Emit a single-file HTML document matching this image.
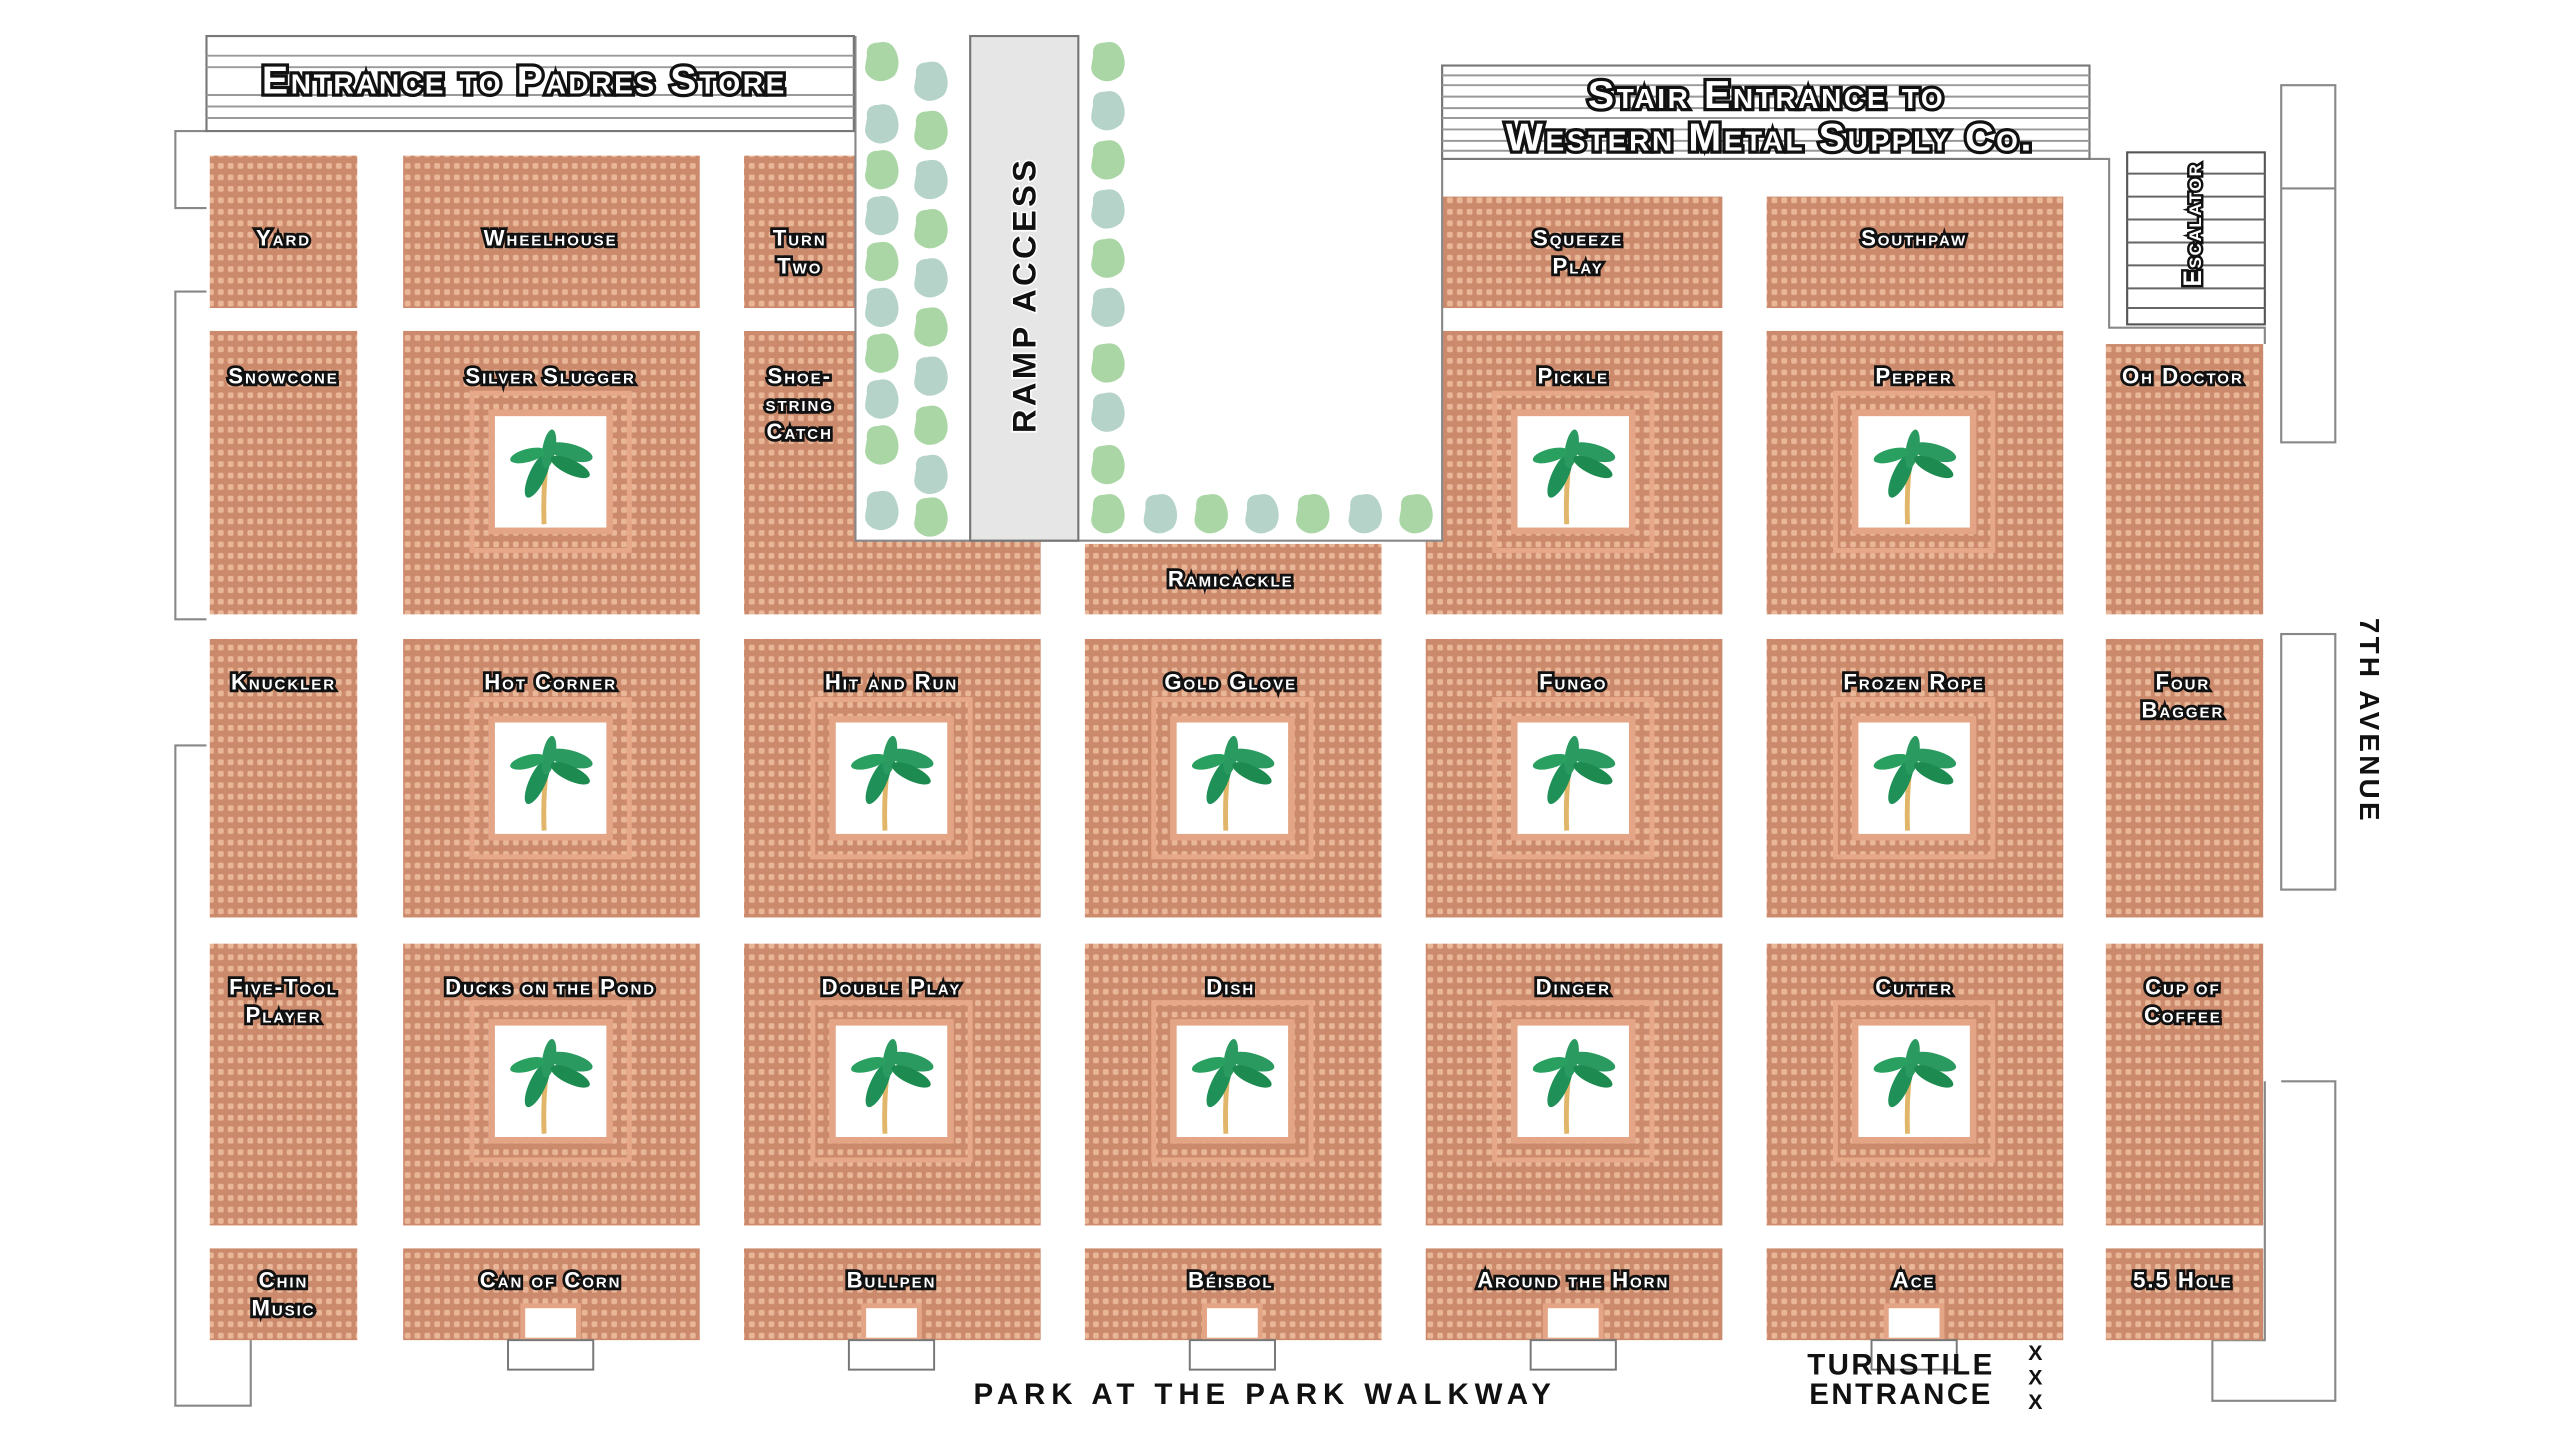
<!DOCTYPE html>
<html><head><meta charset="utf-8">
<style>
html,body{margin:0;padding:0;background:#fff;width:2568px;height:1445px;overflow:hidden}
svg{display:block}
.l{font-family:"Liberation Sans",sans-serif;font-weight:bold;font-variant:small-caps;font-size:13.5px;fill:#fff;stroke:#111;stroke-width:3.4px;paint-order:stroke;text-anchor:middle;letter-spacing:1.2px}
.h{font-family:"Liberation Sans",sans-serif;font-weight:bold;font-variant:small-caps;font-size:24px;fill:#fff;stroke:#111;stroke-width:4px;paint-order:stroke;text-anchor:middle;letter-spacing:1.6px}
.b{font-family:"Liberation Sans",sans-serif;font-weight:bold;fill:#111;text-anchor:middle;letter-spacing:2px}
</style></head><body>
<svg width="2568" height="1445" viewBox="0 0 1567 882" preserveAspectRatio="none" xmlns="http://www.w3.org/2000/svg">
<defs>
<pattern id="br" width="6" height="7" patternUnits="userSpaceOnUse">
<rect width="6" height="7" fill="#cc8a6c"/>
<rect x="1" y="1.5" width="3.5" height="3.5" rx="1" fill="#eab698"/>
</pattern>
<symbol id="palm" viewBox="0 0 68 68">
<path d="M30 66 Q29 40 33 18" stroke="#e2b66a" stroke-width="3" fill="none"/>
<ellipse cx="26" cy="36" rx="5" ry="15" fill="#1f9058" transform="rotate(25 26 36)"/>
<ellipse cx="33" cy="20" rx="4" ry="12" fill="#2a9a60" transform="rotate(10 33 20)"/>
<ellipse cx="46" cy="22" rx="14" ry="5" fill="#2a9a60" transform="rotate(15 46 22)"/>
<ellipse cx="46" cy="31" rx="13" ry="4.5" fill="#1d8a50" transform="rotate(25 46 31)"/>
<ellipse cx="20" cy="24" rx="11" ry="4" fill="#2aa060" transform="rotate(-15 20 24)"/>
</symbol>
<g id="pbox">
<rect x="-48" y="-48" width="96" height="96" fill="none" stroke="#e6a888" stroke-width="3"/>
<rect x="-38" y="-38" width="76" height="76" fill="#e3a585"/>
<rect x="-34" y="-34" width="68" height="68" fill="#fff"/>
<use href="#palm" x="-34" y="-34" width="68" height="68"/>
</g>
<g id="bg"><path d="M-9 -4 Q-10 -12 -2 -12 Q6 -14 9 -6 Q12 2 8 8 Q2 13 -4 11 Q-11 8 -10 2 Z" fill="#a9d6a4"/></g>
<g id="bb"><path d="M-9 -4 Q-10 -12 -2 -12 Q6 -14 9 -6 Q12 2 8 8 Q2 13 -4 11 Q-11 8 -10 2 Z" fill="#b5d3c8"/></g>
<g id="bx"><rect x="-17" y="-21" width="34" height="21" fill="#fff" stroke="#e3a585" stroke-width="3"/><rect x="-26" y="0" width="52" height="18" fill="#fff" stroke="#777" stroke-width="1.2"/></g>
</defs>

<g fill="none" stroke="#888" stroke-width="1.3">
<polyline points="127,80 107,80 107,127 126,127"/>
<polyline points="126,178 107,178 107,378 126,378"/>
<polyline points="126,455 107,455 107,858 153,858 153,818"/>
<rect x="1392" y="52" width="33" height="218"/>
<line x1="1392" y1="115" x2="1425" y2="115"/>
<rect x="1392" y="387" width="33" height="156"/>
<polyline points="1392,660 1425,660 1425,855 1350,855 1350,818 1382,818 1382,660"/>
<polyline points="1275,97 1287,97 1287,200 1382,200 1382,210"/>
</g>

<g fill="url(#br)">
<rect x="128" y="95" width="90" height="93"/>
<rect x="246" y="95" width="181" height="93"/>
<rect x="454" y="95" width="68" height="93"/>
<rect x="880" y="120" width="171" height="68"/>
<rect x="1078" y="120" width="181" height="68"/>
<rect x="128" y="202" width="90" height="173"/>
<rect x="246" y="202" width="181" height="173"/>
<path d="M454 202 H522 V330 H635 V375 H454 Z"/>
<rect x="662" y="332" width="181" height="43"/>
<rect x="870" y="202" width="181" height="173"/>
<rect x="1078" y="202" width="181" height="173"/>
<rect x="1285" y="210" width="96" height="165"/>
<rect x="128" y="390" width="90" height="170"/>
<rect x="246" y="390" width="181" height="170"/>
<rect x="454" y="390" width="181" height="170"/>
<rect x="662" y="390" width="181" height="170"/>
<rect x="870" y="390" width="181" height="170"/>
<rect x="1078" y="390" width="181" height="170"/>
<rect x="1285" y="390" width="96" height="170"/>
<rect x="128" y="576" width="90" height="172"/>
<rect x="246" y="576" width="181" height="172"/>
<rect x="454" y="576" width="181" height="172"/>
<rect x="662" y="576" width="181" height="172"/>
<rect x="870" y="576" width="181" height="172"/>
<rect x="1078" y="576" width="181" height="172"/>
<rect x="1285" y="576" width="96" height="172"/>
<rect x="128" y="762" width="90" height="56"/>
<rect x="246" y="762" width="181" height="56"/>
<rect x="454" y="762" width="181" height="56"/>
<rect x="662" y="762" width="181" height="56"/>
<rect x="870" y="762" width="181" height="56"/>
<rect x="1078" y="762" width="181" height="56"/>
<rect x="1285" y="762" width="96" height="56"/>
</g>

<path d="M522 22 H880 V330 H522 Z" fill="#fff"/>
<polyline points="522,22 522,330 880,330 880,40" fill="none" stroke="#888" stroke-width="1.3"/>
<rect x="592" y="22" width="66" height="308" fill="#e6e6e6" stroke="#777" stroke-width="1.3"/>
<g>
<use href="#bg" x="538" y="38"/><use href="#bb" x="538" y="76"/><use href="#bg" x="538" y="104"/><use href="#bb" x="538" y="132"/><use href="#bg" x="538" y="160"/><use href="#bb" x="538" y="188"/><use href="#bg" x="538" y="216"/><use href="#bb" x="538" y="244"/><use href="#bg" x="538" y="272"/><use href="#bb" x="538" y="312"/>
<use href="#bb" x="568" y="50"/><use href="#bg" x="568" y="80"/><use href="#bb" x="568" y="110"/><use href="#bg" x="568" y="140"/><use href="#bb" x="568" y="170"/><use href="#bg" x="568" y="200"/><use href="#bb" x="568" y="230"/><use href="#bg" x="568" y="260"/><use href="#bb" x="568" y="290"/><use href="#bg" x="568" y="316"/>
<use href="#bg" x="676" y="38"/><use href="#bb" x="676" y="68"/><use href="#bg" x="676" y="98"/><use href="#bb" x="676" y="128"/><use href="#bg" x="676" y="158"/><use href="#bb" x="676" y="188"/><use href="#bg" x="676" y="222"/><use href="#bb" x="676" y="252"/><use href="#bg" x="676" y="284"/>
<use href="#bg" x="676" y="314"/><use href="#bb" x="708" y="314"/><use href="#bg" x="739" y="314"/><use href="#bb" x="770" y="314"/><use href="#bg" x="801" y="314"/><use href="#bb" x="833" y="314"/><use href="#bg" x="864" y="314"/>
</g>

<rect x="126" y="22" width="395" height="58" fill="#fff" stroke="#777" stroke-width="1.3"/>
<g stroke="#999" stroke-width="1.2">
<line x1="126" y1="34" x2="521" y2="34"/><line x1="126" y1="41" x2="521" y2="41"/><line x1="126" y1="58" x2="521" y2="58"/><line x1="126" y1="65" x2="521" y2="65"/><line x1="126" y1="72" x2="521" y2="72"/>
</g>
<text class="h" x="320" y="57">Entrance to Padres Store</text>
<rect x="880" y="40" width="395" height="57" fill="#fff" stroke="#777" stroke-width="1.3"/>
<g stroke="#999" stroke-width="1.2">
<line x1="880" y1="46" x2="1275" y2="46"/><line x1="880" y1="52" x2="1275" y2="52"/><line x1="880" y1="59" x2="1275" y2="59"/><line x1="880" y1="66" x2="1275" y2="66"/><line x1="880" y1="72" x2="1275" y2="72"/><line x1="880" y1="79" x2="1275" y2="79"/><line x1="880" y1="86" x2="1275" y2="86"/><line x1="880" y1="92" x2="1275" y2="92"/>
</g>
<text class="h" x="1078" y="66">Stair Entrance to</text>
<text class="h" x="1080" y="92">Western Metal Supply Co.</text>

<rect x="1298" y="93" width="84" height="105" fill="#fff" stroke="#555" stroke-width="1.3"/>
<g stroke="#666" stroke-width="1.2">
<line x1="1298" y1="106" x2="1382" y2="106"/><line x1="1298" y1="120" x2="1382" y2="120"/><line x1="1298" y1="134" x2="1382" y2="134"/><line x1="1298" y1="148" x2="1382" y2="148"/><line x1="1298" y1="162" x2="1382" y2="162"/><line x1="1298" y1="176" x2="1382" y2="176"/><line x1="1298" y1="188" x2="1382" y2="188"/>
</g>
<text class="h" style="font-size:15px;stroke-width:3px;letter-spacing:1px" transform="translate(1343,137) rotate(-90)">Escalator</text>
<text class="b" style="font-size:20px;stroke:#fff;stroke-width:2px;paint-order:stroke" transform="translate(632,180) rotate(-90)">RAMP ACCESS</text>

<use href="#pbox" x="336" y="288"/>
<use href="#pbox" x="960" y="288"/>
<use href="#pbox" x="1168" y="288"/>
<use href="#pbox" x="336" y="475"/><use href="#pbox" x="544" y="475"/><use href="#pbox" x="752" y="475"/><use href="#pbox" x="960" y="475"/><use href="#pbox" x="1168" y="475"/>
<use href="#pbox" x="336" y="660"/><use href="#pbox" x="544" y="660"/><use href="#pbox" x="752" y="660"/><use href="#pbox" x="960" y="660"/><use href="#pbox" x="1168" y="660"/>
<use href="#bx" x="336" y="818"/><use href="#bx" x="544" y="818"/><use href="#bx" x="752" y="818"/><use href="#bx" x="960" y="818"/><use href="#bx" x="1168" y="818"/>

<g class="l">
<text x="173" y="150">Yard</text>
<text x="336" y="150">Wheelhouse</text>
<text x="488" y="150">Turn</text><text x="488" y="167">Two</text>
<text x="963" y="150">Squeeze</text><text x="963" y="167">Play</text>
<text x="1168" y="150">Southpaw</text>
<text x="173" y="234">Snowcone</text>
<text x="336" y="234">Silver Slugger</text>
<text x="488" y="234">Shoe-</text><text x="488" y="251">string</text><text x="488" y="268">Catch</text>
<text x="960" y="234">Pickle</text>
<text x="1168" y="234">Pepper</text>
<text x="1332" y="234">Oh Doctor</text>
<text x="751" y="358">Ramicackle</text>
<text x="173" y="421">Knuckler</text>
<text x="336" y="421">Hot Corner</text>
<text x="544" y="421">Hit and Run</text>
<text x="751" y="421">Gold Glove</text>
<text x="960" y="421">Fungo</text>
<text x="1168" y="421">Frozen Rope</text>
<text x="1332" y="421">Four</text><text x="1332" y="438">Bagger</text>
<text x="173" y="607">Five-Tool</text><text x="173" y="624">Player</text>
<text x="336" y="607">Ducks on the Pond</text>
<text x="544" y="607">Double Play</text>
<text x="751" y="607">Dish</text>
<text x="960" y="607">Dinger</text>
<text x="1168" y="607">Cutter</text>
<text x="1332" y="607">Cup of</text><text x="1332" y="624">Coffee</text>
<text x="173" y="786">Chin</text><text x="173" y="803">Music</text>
<text x="336" y="786">Can of Corn</text>
<text x="544" y="786">Bullpen</text>
<text x="751" y="786">Béisbol</text>
<text x="960" y="786">Around the Horn</text>
<text x="1168" y="786">Ace</text>
<text x="1332" y="786">5.5 Hole</text>
</g>

<text class="b" style="font-size:18px;letter-spacing:3.6px" x="772" y="857">PARK AT THE PARK WALKWAY</text>
<text class="b" style="font-size:18px;letter-spacing:1.5px" x="1160" y="839">TURNSTILE</text>
<text class="b" style="font-size:18px;letter-spacing:1.5px" x="1160" y="857">ENTRANCE</text>
<g class="b" style="font-size:13px"><text x="1243" y="830">X</text><text x="1243" y="845">X</text><text x="1243" y="860">X</text></g>
<text class="b" style="font-size:17px;letter-spacing:2px" transform="translate(1440,440) rotate(90)">7TH AVENUE</text>
</svg>
</body></html>
